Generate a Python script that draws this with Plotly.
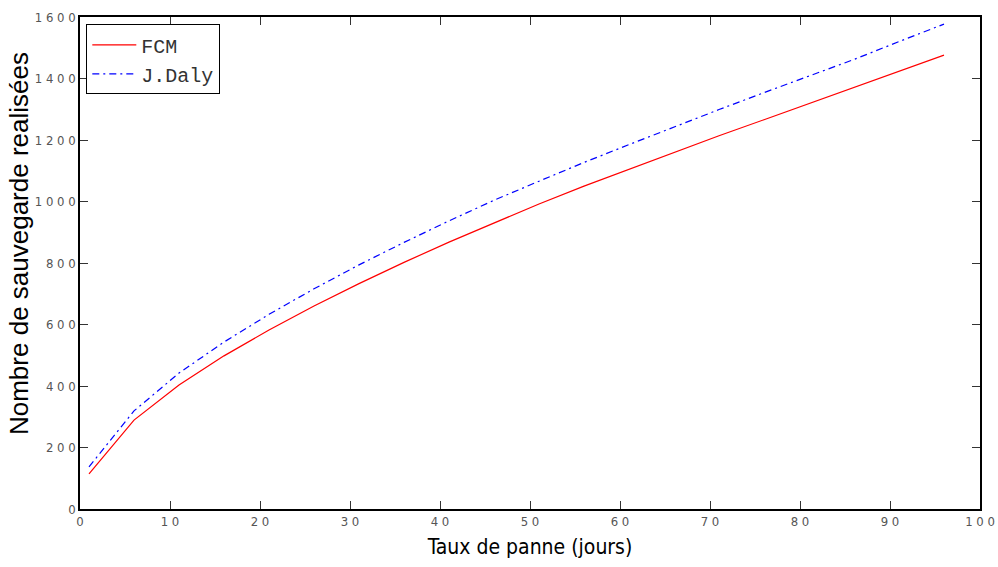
import plotly.graph_objects as go

# Failure rate (days) and backups performed for each method
jours = [1, 6, 11, 16, 21, 26, 31, 36, 41, 46, 51, 56, 61, 66, 71, 76, 81, 86, 91, 96]
fcm = [114, 289, 403, 498, 582, 660, 733, 802, 868, 931, 992, 1050, 1105, 1160, 1214,
       1266, 1318, 1371, 1423, 1476]
jdaly = [137, 319, 442, 543, 633, 716, 794, 867, 937, 1004, 1066, 1127, 1185, 1243,
         1299, 1354, 1408, 1462, 1520, 1577]

x_ticks = list(range(0, 101, 10))
y_ticks = list(range(0, 1601, 200))

narrow = "DejaVu Sans Condensed, Liberation Sans Narrow, Liberation Sans"

fig = go.Figure()
fig.add_trace(go.Scatter(x=jours, y=fcm, mode="lines", name="FCM",
                         line=dict(color="#ff0000", width=1.2)))
fig.add_trace(go.Scatter(x=jours, y=jdaly, mode="lines", name="J.Daly",
                         line=dict(color="#0000ff", width=1.2, dash="7px,4px,2px,4px")))

axis_common = dict(
    showline=True, linecolor="black", linewidth=1.5, mirror="ticks",
    ticks="inside", ticklen=8, tickcolor="#333333", tickwidth=1,
    showgrid=False, zeroline=False, automargin=False,
    tickfont=dict(family=narrow, size=13, color="#555555"),
)

fig.update_xaxes(range=[0, 100], tickvals=x_ticks, ticktext=[" ".join(str(v)) for v in x_ticks],
                 title=dict(text="Taux de panne (jours)", standoff=11,
                            font=dict(family=narrow, size=21, color="black")),
                 **axis_common)
fig.update_yaxes(range=[0, 1600], tickvals=y_ticks, ticktext=[" ".join(str(v)) for v in y_ticks],
                 **axis_common)

# Vertical y-axis label, sitting slightly above the axis centre
fig.add_annotation(text="Nombre de sauvegarde realisées", textangle=-90,
                   xref="paper", yref="paper", x=-0.067, y=0.54,
                   xanchor="center", yanchor="middle", showarrow=False,
                   font=dict(family="Liberation Sans, Arial", size=26, color="black"))

fig.update_layout(
    width=998, height=567,
    margin=dict(l=80, r=18, t=17, b=58),
    paper_bgcolor="white", plot_bgcolor="white",
    legend=dict(x=0.007, y=0.985, xanchor="left", yanchor="top",
                bgcolor="white", bordercolor="black", borderwidth=1,
                font=dict(family="Liberation Mono, Courier New, monospace", size=20, color="#333333"),
                tracegroupgap=0, itemwidth=44),
    showlegend=True,
)

fig.write_html("out.html")
